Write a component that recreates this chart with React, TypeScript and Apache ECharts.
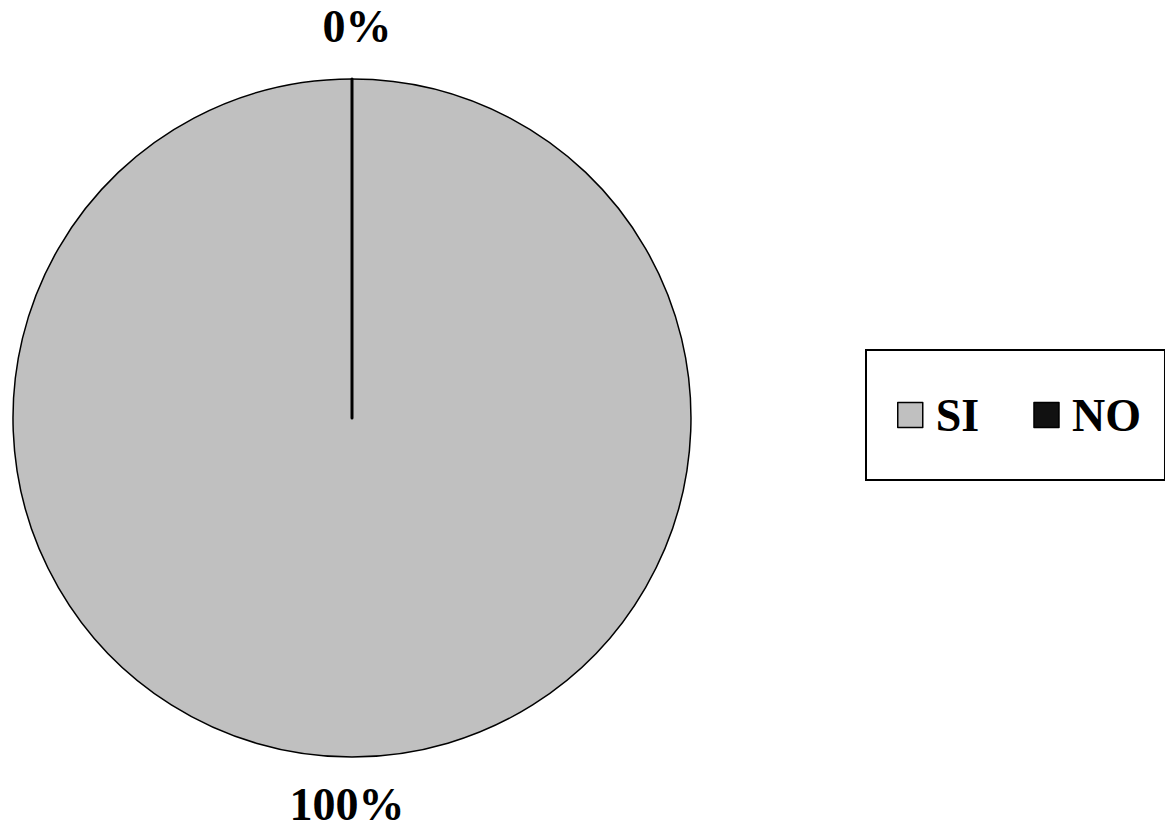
import React, { useEffect, useRef } from "react";
import * as echarts from "echarts";

const categories = ["SI", "NO"];
const values = [100, 0];
const colors = ["#c0c0c0", "#111111"];

export default function App() {
  const ref = useRef<HTMLDivElement>(null);
  useEffect(() => {
    if (!ref.current) return;
    const chart = echarts.init(ref.current, null, { renderer: "svg" });
    const font = "'Liberation Serif', 'Times New Roman', serif";
    chart.setOption({
      animation: false,
      backgroundColor: "#ffffff",
      legend: {
        data: categories,
        orient: "horizontal",
        left: 866,
        top: 350,
        width: 266,
        padding: [42, 24, 42, 31],
        borderColor: "#000",
        borderWidth: 2,
        itemWidth: 25,
        itemHeight: 25,
        itemGap: 54,
        icon: "rect",
        itemStyle: { borderColor: "#000", borderWidth: 1.5 },
        textStyle: {
          fontFamily: font,
          fontWeight: "bold",
          fontSize: 46,
          color: "#000",
          padding: [0, 0, 0, 8],
        },
      },
      series: [
        {
          type: "pie",
          center: [352, 418],
          radius: 339,
          startAngle: 90,
          clockwise: true,
          minAngle: 0,
          avoidLabelOverlap: false,
          label: {
            show: true,
            position: "outside",
            formatter: "{d}%",
            fontFamily: font,
            fontWeight: "bold",
            fontSize: 46,
            color: "#000",
          },
          labelLine: { show: false, length: 50, length2: 0 },
          labelLayout: () => ({ align: "center", verticalAlign: "middle", dy: -3 }),
          emphasis: { disabled: true },
          data: categories.map((name, i) => ({
            name,
            value: values[i],
            itemStyle: {
              color: colors[i],
              borderColor: "#000",
              borderWidth: i === 1 ? 3 : 1.5,
            },
          })),
        },
      ],
    });
    return () => chart.dispose();
  }, []);
  return (
    <div
      ref={ref}
      style={{ position: "fixed", left: 0, top: 0, width: 1165, height: 829 }}
    />
  );
}
